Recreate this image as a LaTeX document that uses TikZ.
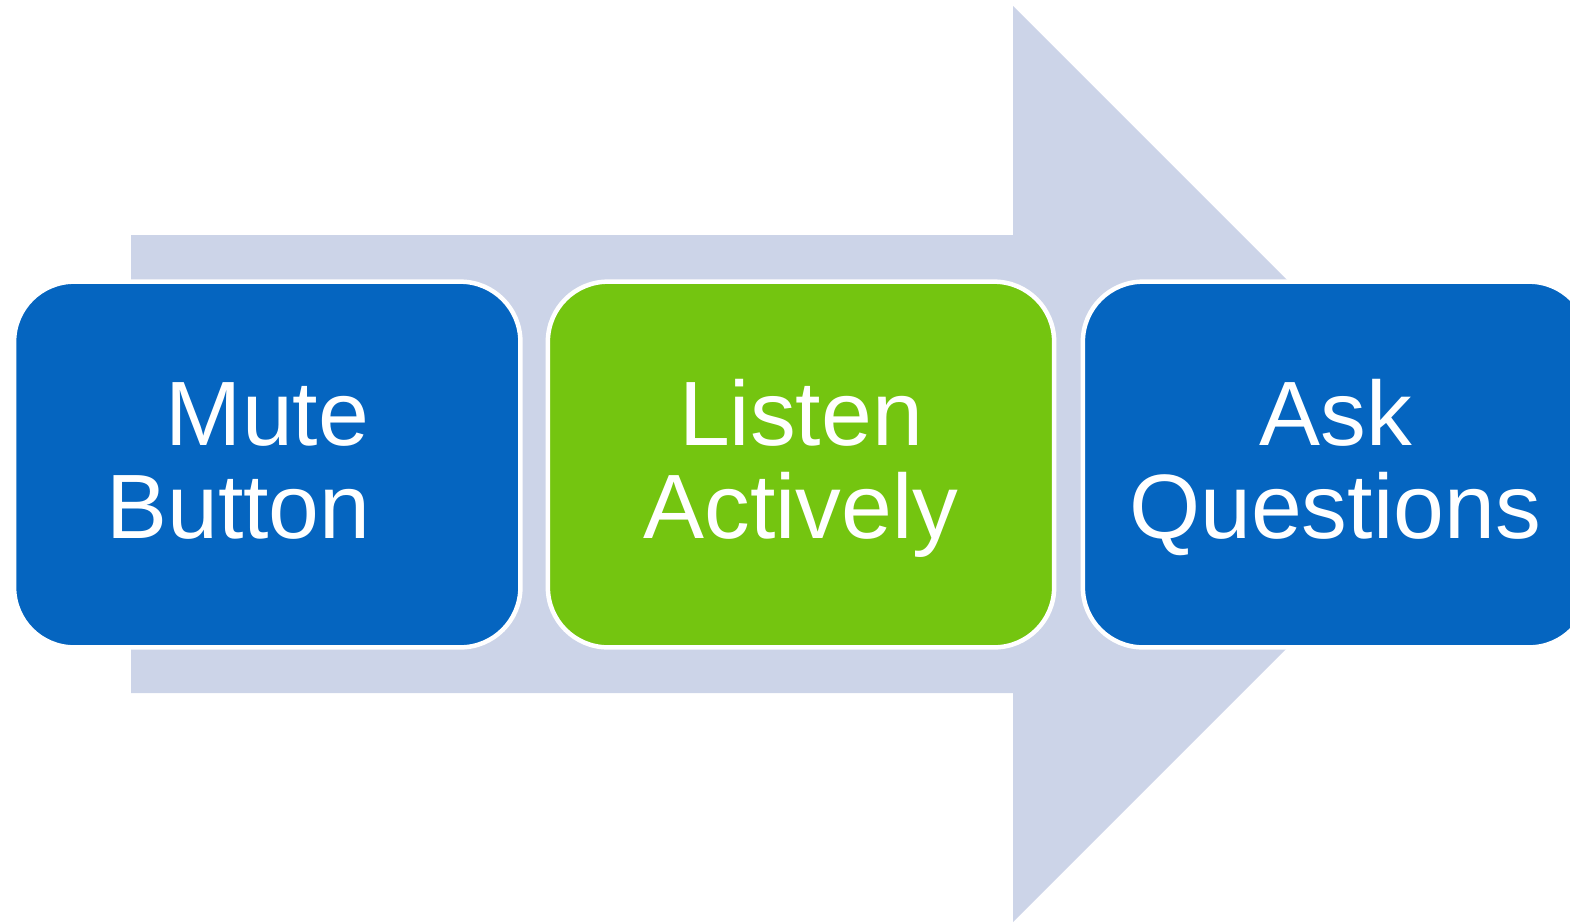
\documentclass[tikz,border=0pt]{standalone}
\usepackage{fontspec}
\setmainfont{Liberation Sans}
\definecolor{arrowfill}{RGB}{204,212,232}
\definecolor{stepblue}{RGB}{5,101,192}
\definecolor{stepgreen}{RGB}{116,197,16}
\begin{document}
\begin{tikzpicture}[x=0.01cm,y=-0.01cm,
  stepbox/.style={rectangle, rounded corners=0.6cm, draw=white, line width=0.045cm,
    minimum width=5.06cm, minimum height=3.655cm, inner sep=0pt, outer sep=0pt},
  steplabel/.style={anchor=base, text=white, inner sep=0pt,
    font=\fontsize{26}{27}\selectfont}]
\useasboundingbox (0,0) rectangle (1570,923);
\begin{scope}
\clip (0,0) rectangle (1570,923);
% background block arrow
\fill[arrowfill] (131,235) -- (1013,235) -- (1013,6) -- (1471,464)
  -- (1013,922) -- (1013,693) -- (131,693) -- cycle;
% the three steps
\node[stepbox, fill=stepblue]  (b1) at (267.25,464.5) {};
\node[stepbox, fill=stepgreen] (b2) at (801,464.5) {};
\node[stepbox, fill=stepblue]  (b3) at (1336,464.5) {};
% labels
\node[steplabel] (t1a) at (267.5,445) {Mute};
\node[steplabel] (t1b) at (238.5,538) {Button};
\node[steplabel] (t2a) at (801,445) {Listen};
\node[steplabel] (t2b) at (801,538) {Actively};
\node[steplabel] (t3a) at (1336,445) {Ask};
\node[steplabel] (t3b) at (1335,538) {Questions};
\end{scope}
\end{tikzpicture}
\end{document}
